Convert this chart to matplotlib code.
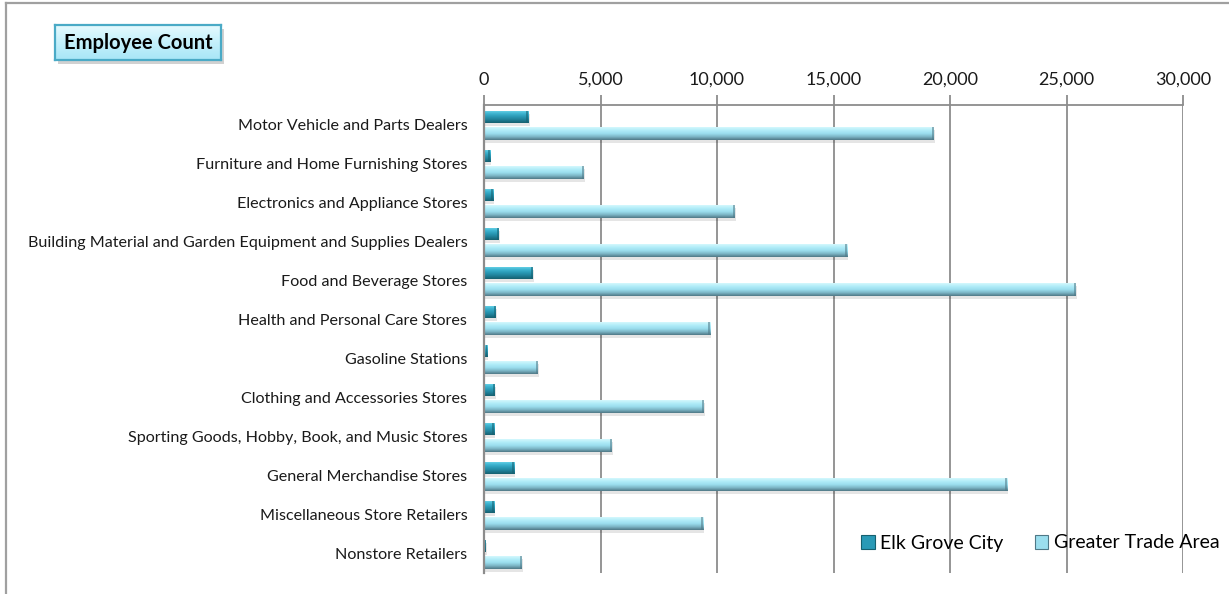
import numpy as np
import matplotlib.pyplot as plt
from matplotlib.colors import LinearSegmentedColormap
from matplotlib.patches import Rectangle, Patch
from matplotlib.lines import Line2D
from matplotlib.ticker import FuncFormatter

plt.rcParams['font.family'] = ['Lato', 'DejaVu Sans']

categories = [
    "Motor Vehicle and Parts Dealers",
    "Furniture and Home Furnishing Stores",
    "Electronics and Appliance Stores",
    "Building Material and Garden Equipment and Supplies Dealers",
    "Food and Beverage Stores",
    "Health and Personal Care Stores",
    "Gasoline Stations",
    "Clothing and Accessories Stores",
    "Sporting Goods, Hobby, Book, and Music Stores",
    "General Merchandise Stores",
    "Miscellaneous Store Retailers",
    "Nonstore Retailers",
]
elk_grove = [1900, 260, 390, 640, 2100, 500, 130, 470, 430, 1290, 430, 70]
greater_area = [19300, 4290, 10770, 15580, 25400, 9700, 2310, 9440, 5490, 22450, 9400, 1630]
series_names = ["Elk Grove City", "Greater Trade Area"]
x_ticks = [0, 5000, 10000, 15000, 20000, 25000, 30000]
title = "Employee Count"

W, H = 1229, 594
fig = plt.figure(figsize=(W / 100, H / 100), dpi=100)
ax = fig.add_axes([484 / W, 1 - 573 / H, (1183 - 484) / W, (573 - 105) / H])

# vertical bevel gradients (top -> bottom)
elk_cmap = LinearSegmentedColormap.from_list(
    "elk", ["#72d8ec", "#3fb6d2", "#2a9ab6", "#1f7f97", "#16606f"])
gta_cmap = LinearSegmentedColormap.from_list(
    "gta", ["#d4f8fd", "#b0ecf8", "#9bdeee", "#7cb6c6", "#4f7886"])
grad = np.linspace(0, 1, 64).reshape(-1, 1)

y = np.arange(len(categories))
off_elk, off_gta = -0.19, 0.23
h_elk, h_gta = 0.31, 0.33


def draw_series(vals, offset, height, cmap, edge):
    # soft shadow under each bar
    ax.barh(y + offset + 0.07, vals, height=height, left=60,
            color="#000000", alpha=0.10, linewidth=0, zorder=2)
    bars = ax.barh(y + offset, vals, height=height, color=cmap(0.5),
                   linewidth=0, zorder=3)
    for b in bars:
        x0, y0, w, hgt = b.get_x(), b.get_y(), b.get_width(), b.get_height()
        im = ax.imshow(grad, cmap=cmap, aspect="auto",
                       extent=(x0, x0 + w, y0 + hgt, y0), zorder=4,
                       interpolation="bilinear")
        im.set_clip_path(b)
        # darker bevel at the bar end
        cap = min(w * 0.5, 90)
        ax.add_patch(Rectangle((x0 + w - cap, y0), cap, hgt, color=edge,
                               alpha=0.55, linewidth=0, zorder=5))
    return bars


draw_series(elk_grove, off_elk, h_elk, elk_cmap, "#16606f")
draw_series(greater_area, off_gta, h_gta, gta_cmap, "#4f7886")

ax.set_xlim(0, 30000)
ax.set_ylim(len(categories) - 0.5, -0.5)
ax.set_xticks(x_ticks)
ax.xaxis.set_major_formatter(FuncFormatter(lambda v, p: f"{int(v):,}"))
ax.xaxis.tick_top()
ax.tick_params(axis="x", length=7, width=1.3, color="#8c8c8c", pad=5.5,
               labelsize=13, labelcolor="#1a1a1a")
ax.set_yticks(y)
ax.set_yticklabels(categories)
ax.tick_params(axis="y", length=0, pad=12, labelsize=11.6, labelcolor="#1a1a1a")
ax.grid(axis="x", color="#8c8c8c", linewidth=1.3, zorder=1)
ax.set_axisbelow(True)
for s in ("right", "bottom"):
    ax.spines[s].set_visible(False)
ax.spines["top"].set_color("#8c8c8c")
ax.spines["top"].set_linewidth(1.3)
ax.spines["left"].set_color("#8c8c8c")
ax.spines["left"].set_linewidth(1.6)
ax.spines["left"].set_zorder(6)

handles = [Patch(facecolor="#2a9ab6", edgecolor="#16606f", linewidth=0.8),
           Patch(facecolor="#9bdeee", edgecolor="#4f7886", linewidth=0.8)]
ax.legend(handles, series_names, loc="center left",
          bbox_to_anchor=((861 - 484) / (1183 - 484), (573 - 543) / (573 - 105)),
          ncol=2, frameon=False, fontsize=14, handlelength=0.7,
          handleheight=0.7, handletextpad=0.3, columnspacing=1.6,
          borderaxespad=0, borderpad=0)

# title box with shadow and gradient fill
bx0, by0, bx1, by1 = 55, 25, 221, 60
fig.add_artist(Rectangle(((bx0 + 3) / W, 1 - (by1 + 4) / H),
                         (bx1 - bx0) / W, (by1 - by0) / H,
                         transform=fig.transFigure, color="#000000",
                         alpha=0.18, linewidth=0, zorder=-1))
tax = fig.add_axes([bx0 / W, 1 - by1 / H, (bx1 - bx0) / W, (by1 - by0) / H])
tax.set_zorder(2)
title_cmap = LinearSegmentedColormap.from_list("tb", ["#e6fafe", "#c4f0fb", "#a8e6f7"])
tax.imshow(grad, cmap=title_cmap, aspect="auto", extent=(0, 1, 0, 1),
           interpolation="bilinear")
tax.set_xlim(0, 1)
tax.set_ylim(0, 1)
tax.set_xticks([])
tax.set_yticks([])
for s in tax.spines.values():
    s.set_color("#4aaac6")
    s.set_linewidth(1.6)
tax.text(0.5, 0.48, title, ha="center", va="center", fontsize=14.5,
         fontweight="bold", color="#000000")

# outer frame (top and left edges)
fig.add_artist(Line2D([5.5 / W, 1], [1 - 3 / H, 1 - 3 / H], transform=fig.transFigure,
                      color="#a0a0a0", linewidth=1.6))
fig.add_artist(Line2D([5.5 / W, 5.5 / W], [0, 1 - 3 / H], transform=fig.transFigure,
                      color="#a0a0a0", linewidth=1.6))

fig.savefig("out.png", dpi=100)
